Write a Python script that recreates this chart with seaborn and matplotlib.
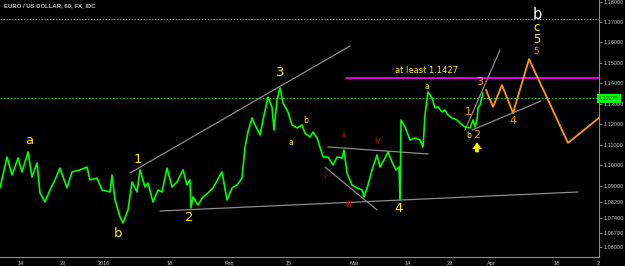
import numpy as np
import pandas as pd
import matplotlib
matplotlib.use("Agg")
import matplotlib.pyplot as plt
import seaborn as sns
from matplotlib.transforms import blended_transform_factory

sns.set_style("dark", {"axes.facecolor": "black", "figure.facecolor": "black"})
plt.rcParams['font.family'] = ['DejaVu Sans']

title = "EURO / US DOLLAR, 60, FX_IDC"

# time axis in trading days since Dec 14 2015
times = [-3.53, -2.35, -1.51, -0.50, 0.17, 1.18, 1.85, 2.69, 3.19, 4.03, 4.87, 5.71, 6.55, 7.73,
         8.57, 9.92, 11.09, 11.60, 12.77, 13.61, 14.96, 15.29, 15.80, 16.64, 17.14, 17.98, 18.66,
         19.50, 20.00, 20.84, 21.34, 22.18, 23.03, 23.70, 24.54, 25.38, 26.22, 27.23, 27.90, 28.40,
         28.57, 28.91, 29.75, 30.59, 31.43, 32.27, 33.78, 34.62, 35.46, 36.30, 37.14, 37.65, 38.15,
         38.82, 39.33, 40.17, 40.67, 41.51, 42.18, 42.52, 43.03, 43.53, 44.03, 44.87, 45.55, 46.39,
         47.23, 47.73, 48.57, 49.08, 49.75, 50.25, 50.76, 51.60, 52.44, 53.11, 53.95, 54.29, 54.79,
         55.63, 56.47, 57.31, 57.65, 58.32, 58.99, 59.83, 60.34, 61.18, 61.68, 62.35, 63.03, 63.53,
         63.70, 63.87, 64.54, 65.38, 66.22, 67.06, 67.56, 67.90, 68.40, 69.08, 69.58, 70.08, 70.76,
         71.26, 71.76, 72.44, 73.28, 73.78, 74.62, 75.46, 75.97, 76.30, 76.64, 76.81, 77.14, 77.65]
prices = [1.0889, 1.1040, 1.0952, 1.1035, 1.0967, 1.1065, 1.0942, 1.1011, 1.0864, 1.0820, 1.0879,
          1.0928, 1.0986, 1.0889, 1.0967, 1.0977, 1.0991, 1.0928, 1.0937, 1.0879, 1.0869, 1.0952,
          1.0830, 1.0747, 1.0717, 1.0781, 1.0918, 1.0869, 1.0977, 1.0893, 1.0913, 1.0820, 1.0879,
          1.0869, 1.0986, 1.0893, 1.0918, 1.0977, 1.0903, 1.0928, 1.0791, 1.0845, 1.0805, 1.0845,
          1.0864, 1.0889, 1.0967, 1.0830, 1.0889, 1.0903, 1.0937, 1.1089, 1.1162, 1.1231, 1.1197,
          1.1148, 1.1221, 1.1333, 1.1285, 1.1172, 1.1319, 1.1378, 1.1304, 1.1260, 1.1197, 1.1182,
          1.1197, 1.1157, 1.1138, 1.1162, 1.1133, 1.1089, 1.1040, 1.1040, 1.1001, 1.1040, 1.1035,
          1.1074, 1.0962, 1.0903, 1.0889, 1.0879, 1.0845, 1.0903, 1.0977, 1.1050, 1.0991, 1.1035,
          1.1065, 1.1016, 1.0977, 1.0991, 1.0830, 1.1221, 1.1187, 1.1123, 1.1133, 1.1123, 1.1089,
          1.1245, 1.1358, 1.1329, 1.1280, 1.1285, 1.1260, 1.1270, 1.1245, 1.1231, 1.1221, 1.1206,
          1.1187, 1.1182, 1.1221, 1.1187, 1.1221, 1.1280, 1.1294, 1.1353]

# projected path (orange)
proj_times = [78.15, 79.33, 80.84, 82.69, 85.38, 91.93, 97.5]
proj_prices = [1.1368, 1.1285, 1.1392, 1.1255, 1.1519, 1.1109, 1.1240]

# trend lines: (t0, t1), (p0, p1)
trend_upper = ([18.32, 55.29], [1.0962, 1.1583])
trend_support = ([23.36, 93.61], [1.0776, 1.0869])
trend_ii_iv = ([51.60, 68.40], [1.1089, 1.1055])
trend_i_iii = ([51.09, 59.83], [1.0991, 1.0781])
trend_steep = ([74.62, 80.50], [1.1172, 1.1563])
trend_low_ch = ([75.80, 87.39], [1.1172, 1.1314])

target_level = 1.1427
target_start = 54.62
target_text = "at least 1.1427"
last_price = 1.13278
top_level = 1.1715
arrow_t = 76.64
arrow_from, arrow_to = 1.1063, 1.1112

xtick_pos = [0, 7, 14, 25, 35, 45, 56, 65, 72, 79, 90, 97]
xtick_labels = ["14", "23", "2016", "18", "Feb", "15", "Mar", "14", "23", "Apr", "18", "2"]
ytick_vals = [1.06, 1.067, 1.074, 1.082, 1.09, 1.10, 1.11, 1.12, 1.13, 1.14, 1.15, 1.16, 1.17, 1.18]

# wave labels: text, time, price, kind
labels = [
    ("a", 1.34, 1.1123, "big"), ("b", 16.30, 1.0664, "big"), ("1", 19.66, 1.1030, "big"),
    ("2", 28.24, 1.0742, "big"), ("3", 43.53, 1.1451, "big"), ("4", 63.53, 1.0786, "big"),
    ("a", 45.38, 1.1113, "small"), ("b", 47.90, 1.1221, "small"), ("a", 68.24, 1.1387, "small"),
    ("b", 75.29, 1.1143, "small"),
    ("i", 50.92, 1.0947, "red"), ("ii", 54.12, 1.1143, "red"), ("iii", 55.13, 1.0810, "red"),
    ("iv", 60.00, 1.1123, "red"),
    ("1", 75.13, 1.1260, "orange"), ("3", 77.14, 1.1407, "orange"), ("2", 76.64, 1.1148, "orange"),
    ("4", 82.69, 1.1216, "orange"), ("5", 86.55, 1.1556, "orange_s"),
    ("b", 86.72, 1.1736, "white"), ("c", 86.72, 1.1672, "top"), ("5", 86.72, 1.1613, "top"),
]
styles = {
    "big": dict(color="#ffee00", fontsize=9.5),
    "small": dict(color="#ffee00", fontsize=5.5),
    "red": dict(color="#c01818", fontsize=5.5),
    "orange": dict(color="#ff9a00", fontsize=8),
    "orange_s": dict(color="#ff9a00", fontsize=6.5),
    "white": dict(color="#ffffff", fontsize=10.5),
    "top": dict(color="#ffee00", fontsize=8.5),
}

fig = plt.figure(figsize=(6.25, 2.66), dpi=100, facecolor="black")
ax = fig.add_axes([0, 9 / 266, 599 / 625, 257 / 266])
ax.set_facecolor("black")

df = pd.DataFrame({"t": times, "price": prices})
sns.lineplot(data=df, x="t", y="price", ax=ax, color="#00ff00", lw=1.2,
             estimator=None, sort=False, zorder=5)
dp = pd.DataFrame({"t": proj_times, "price": proj_prices})
sns.lineplot(data=dp, x="t", y="price", ax=ax, color="#ff9a00", lw=1.3,
             estimator=None, sort=False, zorder=4)

for tt, pp in [trend_upper, trend_support, trend_ii_iv, trend_i_iii, trend_steep, trend_low_ch]:
    ax.plot(tt, pp, color="#8c8c8c", lw=0.9, zorder=3)

ax.axhline(top_level, color="#a0a0a0", lw=0.7, ls=(0, (1.5, 1.5)), zorder=2)
ax.axhline(last_price, color="#1fb01f", lw=0.7, ls=(0, (2, 1.5)), zorder=2)
ax.plot([target_start, 100], [target_level, target_level], color="#ff00ff", lw=1.2, zorder=3)
ax.text(68.07, 1.1461, target_text, color="#ffee00", fontsize=6, ha="center", va="center", zorder=6)

for txt, t, p, kind in labels:
    ax.text(t, p, txt, ha="center", va="center", zorder=7, **styles[kind])

ax.annotate("", xy=(arrow_t, arrow_to), xytext=(arrow_t, arrow_from),
            arrowprops=dict(arrowstyle="simple,head_width=1.0,head_length=0.7,tail_width=0.4",
                            fc="#ffee00", ec="none", mutation_scale=7, shrinkA=0, shrinkB=0),
            zorder=7)

ax.set_xlim(-3.53, 97.14)
ax.set_ylim(1.05511, 1.18078)
ax.set_xticks(xtick_pos)
ax.set_xticklabels(xtick_labels)
ax.set_yticks(ytick_vals)
ax.set_yticklabels([f"{v:.5f}" for v in ytick_vals])
ax.yaxis.tick_right()
ax.set_xlabel("")
ax.set_ylabel("")
ax.grid(False)
ax.tick_params(colors="#c8c8c8", labelsize=4, length=2, width=0.5, pad=1)
for lbl in ax.get_xticklabels() + ax.get_yticklabels():
    lbl.set_fontfamily("Liberation Sans")
for s in ["top", "left"]:
    ax.spines[s].set_visible(False)
for s in ["right", "bottom"]:
    ax.spines[s].set_visible(True)
    ax.spines[s].set_color("#8a8a8a")
    ax.spines[s].set_linewidth(0.8)

ax.text(1.0, last_price, f"{last_price:.5f}", transform=blended_transform_factory(ax.transAxes, ax.transData),
        ha="left", va="center", fontsize=4, family="Liberation Sans", color="#0a4a0a",
        bbox=dict(boxstyle="square,pad=0.35", fc="#00ff00", ec="none"), clip_on=False, zorder=10)

fig.text(4 / 625, 1 - 6 / 266, title, ha="left", va="center", fontsize=4.3, fontweight="bold",
         color="#c0c0c0", family="Liberation Sans")

fig.savefig("out.png", dpi=100, facecolor="black")
